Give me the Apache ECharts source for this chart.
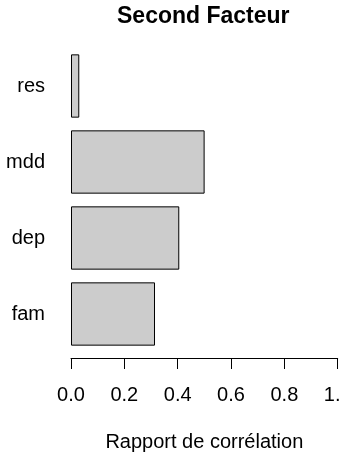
<!DOCTYPE html>
<html>
<head>
<meta charset="utf-8">
<script src="https://cdn.jsdelivr.net/npm/echarts@6/dist/echarts.min.js"></script>
<style>html,body{margin:0;padding:0;background:#fff;}#c{width:340px;height:454px;}</style>
</head>
<body>
<div id="c"></div>
<script>
const categories = ['fam', 'dep', 'mdd', 'res'];
const values = [0.315, 0.406, 0.501, 0.031];
const tickMin = 0, tickMax = 1, tickStep = 0.2;
const titleText = 'Second Facteur';
const xTitle = 'Rapport de corrélation';

const FONT = 'Liberation Sans, Arial, Helvetica, sans-serif';
const chart = echarts.init(document.getElementById('c'), null, {renderer: 'canvas'});
chart.setOption({
  animation: false,
  backgroundColor: '#ffffff',
  title: {
    text: titleText,
    left: 117,
    top: 5,
    padding: 0,
    textStyle: {fontFamily: FONT, fontSize: 23, fontWeight: 'bold', color: '#000'}
  },
  grid: {left: 71, right: 2.3, top: 48, bottom: 102, containLabel: false, outerBoundsMode: 'none'},
  xAxis: {
    type: 'value', min: tickMin, max: tickMax, interval: tickStep,
    offset: 6,
    axisLine: {show: true, lineStyle: {color: '#000', width: 1}},
    axisTick: {show: true, length: 11, lineStyle: {color: '#000'}},
    splitLine: {show: false},
    axisLabel: {fontFamily: FONT, fontSize: 20, color: '#000', margin: 27,
      formatter: v => v.toFixed(1), showMaxLabel: true, showMinLabel: true},
    name: xTitle,
    nameLocation: 'middle',
    nameGap: 74,
    nameTextStyle: {fontFamily: FONT, fontSize: 20, color: '#000'}
  },
  yAxis: {
    type: 'category', data: categories,
    axisLine: {show: false}, axisTick: {show: false},
    axisLabel: {fontFamily: FONT, fontSize: 20, color: '#000', margin: 26}
  },
  series: [{
    type: 'bar', data: values, barWidth: '83.3%',
    itemStyle: {color: '#cccccc', borderColor: '#000', borderWidth: 1}
  }]
});
</script>
</body>
</html>
